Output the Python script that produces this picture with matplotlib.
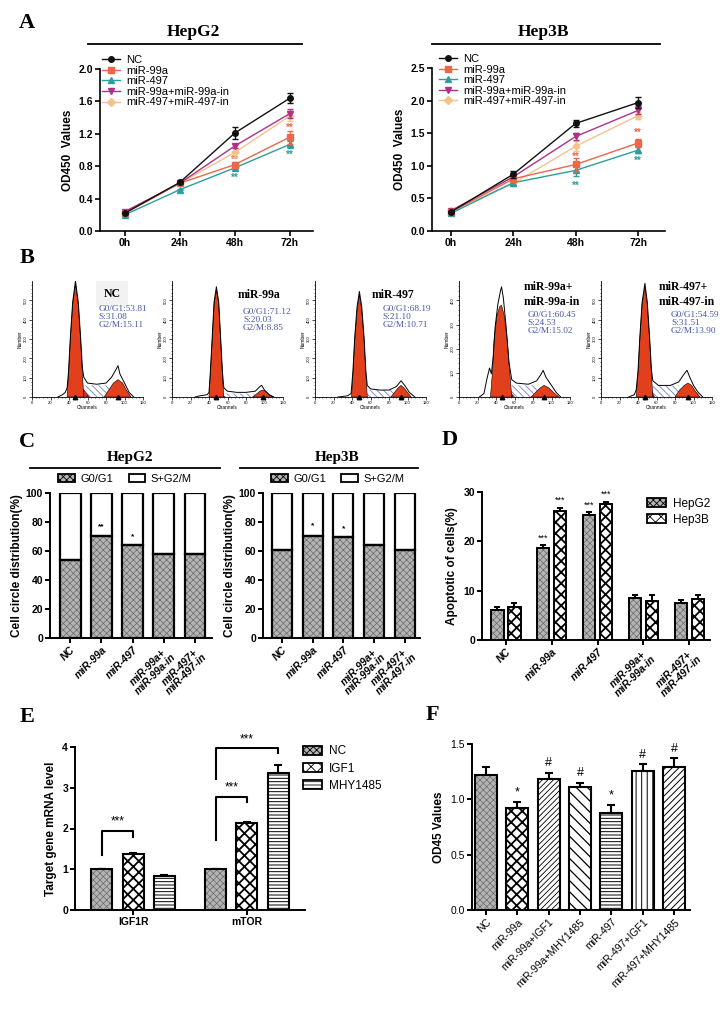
import matplotlib
matplotlib.use('Agg')
import matplotlib.pyplot as plt
from matplotlib.lines import Line2D
from matplotlib.patches import Patch
import numpy as np

# ---------------- data ----------------
timepoints = ['0h', '24h', '48h', '72h']
series_names = ['NC', 'miR-99a', 'miR-497', 'miR-99a+miR-99a-in', 'miR-497+miR-497-in']
series_colors = ['#111111', '#e8684a', '#2a9f9e', '#b0308a', '#f4c28c']
series_markers = ['o', 's', '^', 'v', 'D']

a_hepg2_means = [[0.22, 0.60, 1.21, 1.64],
                 [0.22, 0.59, 0.82, 1.16],
                 [0.20, 0.51, 0.78, 1.07],
                 [0.24, 0.59, 1.05, 1.45],
                 [0.22, 0.59, 0.97, 1.42]]
a_hepg2_errs = [[0.01, 0.02, 0.08, 0.06],
                [0.01, 0.02, 0.03, 0.08],
                [0.01, 0.01, 0.02, 0.04],
                [0.01, 0.02, 0.03, 0.05],
                [0.01, 0.02, 0.06, 0.06]]
a_hep3b_means = [[0.29, 0.87, 1.65, 1.97],
                 [0.29, 0.80, 1.02, 1.35],
                 [0.27, 0.74, 0.93, 1.24],
                 [0.31, 0.83, 1.45, 1.85],
                 [0.31, 0.73, 1.30, 1.77]]
a_hep3b_errs = [[0.02, 0.05, 0.05, 0.08],
                [0.02, 0.04, 0.10, 0.06],
                [0.02, 0.03, 0.08, 0.05],
                [0.02, 0.03, 0.05, 0.06],
                [0.02, 0.04, 0.08, 0.05]]
# significance marks: (time index, value, series index)
a_hepg2_stars = [(2, 0.66, 2), (3, 0.94, 2), (2, 0.88, 1), (3, 1.27, 1)]
a_hep3b_stars = [(2, 0.70, 2), (3, 1.07, 2), (2, 1.13, 1), (3, 1.50, 1)]

# B: flow cytometry histograms (channel, % of axis height)
b_titles = ['NC', 'miR-99a', 'miR-497', 'miR-99a+\nmiR-99a-in', 'miR-497+\nmiR-497-in']
b_g0g1 = ['53.81', '71.12', '68.19', '60.45', '54.59']
b_s = ['31.08', '20.03', '21.10', '24.53', '31.51']
b_g2m = ['15.11', '8.85', '10.71', '15.02', '13.90']
b_ymax = [600, 600, 600, 480, 600]
b_outline = [
    [(28, 0), (33, 2), (36, 4), (38, 8), (39.5, 22), (41.5, 52), (44, 82), (47, 100), (50, 82), (52.5, 52),
     (54.5, 25), (56, 17), (60, 12), (70, 11), (80, 12), (86, 17), (91, 24), (93, 27), (95, 20), (100, 12),
     (105, 4), (110, 0)],
    [(25, 0), (30, 1), (38, 2), (40, 4), (41.5, 22), (43.5, 52), (45.5, 82), (48, 95), (50.5, 82), (52.5, 52),
     (54.5, 22), (56, 8), (60, 5), (70, 4), (80, 4), (90, 5), (95, 9), (97, 10), (100, 6), (105, 2), (110, 0)],
    [(25, 0), (35, 1), (39, 3), (41, 22), (43, 52), (45.5, 78), (48, 91), (50.5, 78), (53, 52), (55, 22),
     (56.5, 10), (60, 7), (70, 6), (80, 6), (88, 9), (93, 14), (97, 10), (102, 4), (108, 0)],
    [(22, 0), (27, 3), (30, 15), (33, 25), (35, 20), (37, 35), (39, 60), (42, 80), (45, 92), (46, 95),
     (48, 85), (51, 60), (54, 30), (57, 15), (62, 12), (75, 11), (84, 14), (89, 20), (91, 23), (94, 17),
     (100, 10), (105, 4), (110, 0)],
    [(30, 0), (36, 2), (38, 6), (40, 22), (42, 52), (44.5, 82), (47.5, 98), (50, 82), (52.5, 52), (54.5, 24),
     (56, 14), (62, 10), (75, 10), (84, 13), (90, 20), (93, 23), (96, 17), (100, 10), (105, 4), (110, 0)],
]
b_g1_peak = [
    [(38, 0), (39.5, 20), (41.5, 50), (44, 80), (47, 97), (50, 80), (52.5, 50), (54.5, 20), (56, 0)],
    [(40, 0), (41.5, 20), (43.5, 50), (45.5, 80), (48, 92), (50.5, 80), (52.5, 50), (54.5, 20), (56, 0)],
    [(39.5, 0), (41, 20), (43, 50), (45.5, 75), (48, 88), (50.5, 75), (53, 50), (55, 20), (56.5, 0)],
    [(34, 0), (36, 20), (38, 50), (41, 70), (44, 78), (46, 79), (49, 70), (52, 50), (55, 20), (57, 0)],
    [(38, 0), (40, 20), (42, 50), (44.5, 80), (47.5, 95), (50, 80), (52.5, 50), (54.5, 20), (56, 0)],
]
b_g1_tail = [
    [(40, 0), (52, 10), (62, 0)],
    [(44, 0), (50, 3), (58, 0)],
    [(44, 0), (50, 4), (57, 0)],
    [(45, 0), (52, 8), (60, 0)],
    [(42, 0), (51, 11), (58, 0)],
]
b_s_band = [
    [(52, 0), (56, 10), (84, 10), (90, 0)],
    [(52, 0), (55, 3), (88, 3), (92, 0)],
    [(52, 0), (55, 6), (85, 6), (90, 0)],
    [(50, 0), (55, 10), (82, 10), (88, 0)],
    [(52, 0), (56, 10), (84, 10), (90, 0)],
]
b_g2_peak = [
    [(78, 0), (83, 6), (88, 12), (93, 15), (98, 12), (102, 6), (107, 0)],
    [(87, 0), (92, 3), (95, 5), (98, 6), (101, 5), (105, 2), (110, 0)],
    [(82, 0), (86, 4), (90, 8), (93, 10), (96, 8), (100, 4), (104, 0)],
    [(78, 0), (84, 5), (88, 8), (92, 10), (97, 8), (102, 4), (108, 0)],
    [(80, 0), (85, 6), (90, 10), (94, 12), (98, 10), (102, 5), (107, 0)],
]
b_g1_pos = [47, 48, 48, 46, 48]
b_g2_pos = [93, 98, 93, 92, 94]

# C: cell cycle distribution
c_labels = ['NC', 'miR-99a', 'miR-497', 'miR-99a+\nmiR-99a-in', 'miR-497+\nmiR-497-in']
c_hepg2_g1 = [54.0, 70.5, 64.0, 58.0, 58.2]
c_hepg2_err = [0.8, 1.0, 1.0, 0.8, 1.2]
c_hep3b_g1 = [61.0, 70.5, 69.5, 64.0, 61.0]
c_hep3b_err = [2.5, 1.8, 1.2, 4.5, 1.8]
c_hepg2_sig = ['', '**', '*', '', '']
c_hep3b_sig = ['', '*', '*', '', '']

# D: apoptosis
d_hepg2 = [6.1, 18.6, 25.4, 8.6, 7.5]
d_hepg2_err = [0.6, 0.6, 0.5, 0.6, 0.7]
d_hep3b = [6.7, 26.2, 27.6, 8.0, 8.4]
d_hep3b_err = [0.8, 0.6, 0.4, 1.2, 0.8]
d_hepg2_sig = ['', '***', '***', '', '']
d_hep3b_sig = ['', '***', '***', '', '']

# E: target gene mRNA
e_genes = ['IGF1R', 'mTOR']
e_groups = ['NC', 'IGF1', 'MHY1485']
e_nc = [1.0, 1.0]
e_nc_err = [0.0, 0.0]
e_igf1 = [1.37, 2.14]
e_igf1_err = [0.02, 0.03]
e_mhy = [0.84, 3.35]
e_mhy_err = [0.03, 0.20]
# brackets: (gene idx, from group, to group, left leg bottom, top, right leg bottom)
e_brackets = [(0, 0, 1, 1.35, 1.94, 1.80), (1, 0, 1, 1.72, 2.78, 2.65), (1, 0, 2, 3.22, 3.97, 3.85)]

# F: OD45
f_labels = ['NC', 'miR-99a', 'miR-99a+IGF1', 'miR-99a+MHY1485', 'miR-497', 'miR-497+IGF1', 'miR-497+MHY1485']
f_vals = [1.22, 0.92, 1.18, 1.11, 0.88, 1.26, 1.29]
f_err = [0.07, 0.06, 0.06, 0.04, 0.07, 0.06, 0.08]
f_sig = ['', '*', '#', '#', '*', '#', '#']

# ---------------- styling helpers ----------------
W, H = 722, 1019
plt.rcParams['font.family'] = ['Liberation Sans', 'DejaVu Sans']
plt.rcParams['hatch.linewidth'] = 0.6
SERIF = ['Liberation Serif', 'DejaVu Serif']

fig = plt.figure(figsize=(W / 100, H / 100), dpi=100)


def add_ax(x0, y0, x1, y1):
    return fig.add_axes([x0 / W, 1 - y1 / H, (x1 - x0) / W, (y1 - y0) / H])


def ftext(x, y, s, **kw):
    fig.text(x / W, 1 - y / H, s, **kw)


def fline(x0, x1, y, lw=1.3):
    fig.add_artist(Line2D([x0 / W, x1 / W], [1 - y / H, 1 - y / H], color='black', lw=lw))


def prism(ax, lw=1.4):
    for s in ['top', 'right']:
        ax.spines[s].set_visible(False)
    for s in ['left', 'bottom']:
        ax.spines[s].set_linewidth(lw)
    ax.tick_params(width=lw, length=3.5, labelsize=7.5, pad=1.5)


def bold_ticklabels(ax, axis='both'):
    labs = []
    if axis in ('both', 'x'):
        labs += ax.get_xticklabels()
    if axis in ('both', 'y'):
        labs += ax.get_yticklabels()
    for lab in labs:
        lab.set_fontweight('bold')


PATTERNS = {
    'gray': dict(fc='#b4b4b4', hc='#6a6a6a', hatch='xxxxx', hlw=0.5),
    'check': dict(fc='white', hc='black', hatch='xxx', hlw=1.3),
    'hstripe': dict(fc='white', hc='black', hatch='-----', hlw=0.7),
    'dense_fwd': dict(fc='white', hc='black', hatch='//////', hlw=0.6),
    'back': dict(fc='white', hc='black', hatch='\\\\\\', hlw=0.9),
    'vstripe': dict(fc='white', hc='black', hatch='|||', hlw=0.7),
    'fwd': dict(fc='white', hc='black', hatch='/////', hlw=0.7),
    'white': dict(fc='white', hc='white', hatch=None, hlw=0.5),
}


def pbar(ax, x, h, w, pattern, bottom=0, lw=1.5, zorder=2):
    p = PATTERNS[pattern]
    bars = ax.bar(x, h, w, bottom=bottom, color=p['fc'], edgecolor=p['hc'], hatch=p['hatch'],
                  linewidth=0, zorder=zorder)
    for b in bars:
        if hasattr(b, 'set_hatch_linewidth'):
            b.set_hatch_linewidth(p['hlw'])
    ax.bar(x, h, w, bottom=bottom, fill=False, edgecolor='black', linewidth=lw, zorder=zorder + 0.1)


def ppatch(pattern):
    p = PATTERNS[pattern]
    pa = Patch(facecolor=p['fc'], edgecolor='black', hatch=p['hatch'], linewidth=1.3)
    return pa


def up_err(ax, x, top, err, lw=1.4, cap=3):
    ax.errorbar(x, top, yerr=[np.zeros(len(err)), err], fmt='none', ecolor='black',
                elinewidth=lw, capsize=cap, capthick=lw, zorder=1)


# ---------------- Panel A ----------------
def panel_a(box, means, errs, ylim, yticks, xlim, stars, leg_anchor):
    ax = add_ax(*box)
    x = np.arange(len(timepoints))
    n = len(series_names)
    for i in range(n):
        ax.errorbar(x, means[i], yerr=errs[i], color=series_colors[i], marker=series_markers[i],
                    ms=4 if series_markers[i] != 'D' else 3.5, lw=1.0, elinewidth=1.0, capsize=2.5,
                    capthick=1.0, zorder=10 - i)
    for ti, val, si in stars:
        ax.text(ti, val, '**', color=series_colors[si], ha='center', va='center', fontsize=7,
                fontweight='bold')
    ax.set_ylim(*ylim)
    ax.set_xlim(*xlim)
    ax.set_yticks(yticks)
    ax.set_yticklabels([f'{v:.1f}' for v in yticks])
    ax.set_xticks(x)
    ax.set_xticklabels(timepoints)
    prism(ax, lw=1.2)
    bold_ticklabels(ax)
    ax.set_ylabel('OD450  Values', fontsize=8.5, fontweight='bold', labelpad=3)
    handles = [Line2D([0], [0], color=series_colors[i], marker=series_markers[i], ms=4, lw=1.0)
               for i in range(n)]
    ax.legend(handles, series_names, loc='upper left', bbox_to_anchor=leg_anchor, frameon=False,
              fontsize=8, handlelength=1.6, handletextpad=0.6, labelspacing=0.05, borderpad=0,
              borderaxespad=0)
    return ax


panel_a((100, 69, 313, 231), a_hepg2_means, a_hepg2_errs, (0, 2.0),
        [0.0, 0.4, 0.8, 1.2, 1.6, 2.0], (-0.45, 3.42), a_hepg2_stars, (0.01, 1.085))
panel_a((432, 68, 665, 231), a_hep3b_means, a_hep3b_errs, (0, 2.5),
        [0.0, 0.5, 1.0, 1.5, 2.0, 2.5], (-0.3, 3.43), a_hep3b_stars, (0.03, 1.085))

ftext(27, 23, 'A', family=SERIF, fontsize=16, fontweight='bold', ha='center', va='center')
ftext(193, 32, 'HepG2', family=SERIF, fontsize=12.5, fontweight='bold', ha='center', va='center')
ftext(543, 32, 'Hep3B', family=SERIF, fontsize=12.5, fontweight='bold', ha='center', va='center')
fline(88, 302, 44)
fline(432, 660, 44)

# ---------------- Panel B ----------------
ftext(27, 258, 'B', family=SERIF, fontsize=16, fontweight='bold', ha='center', va='center')
b_lefts = [32, 172, 315, 459, 601]
b_title_pos = [(0.72, 0.94, 'center'), (0.78, 0.93, 'center'), (0.70, 0.93, 'center'),
               (0.58, 1.0, 'left'), (0.52, 1.0, 'left')]
b_stat_pos = [(0.60, 0.79), (0.64, 0.77), (0.61, 0.79), (0.62, 0.74), (0.63, 0.74)]


def xy(points, ymax):
    xs = [p[0] for p in points]
    ys = [p[1] / 100.0 * ymax for p in points]
    return xs, ys


for k in range(5):
    ax = add_ax(b_lefts[k], 281, b_lefts[k] + 111, 397)
    ym = b_ymax[k]
    xs, ys = xy(b_s_band[k], ym)
    ax.fill(xs, ys, facecolor='white', edgecolor='#6f80c4', hatch='\\\\\\\\\\', linewidth=0, zorder=1)
    xs, ys = xy(b_g2_peak[k], ym)
    ax.fill(xs, ys, facecolor='#e2401c', edgecolor='black', linewidth=0.4, zorder=2)
    xs, ys = xy(b_g1_tail[k], ym)
    ax.fill(xs, ys, facecolor='#c43434', edgecolor='#4a0a0a', hatch='////', linewidth=0.3, zorder=3)
    xs, ys = xy(b_g1_peak[k], ym)
    ax.fill(xs, ys, facecolor='#e2401c', edgecolor='black', linewidth=0.4, zorder=4)
    xs, ys = xy(b_outline[k], ym)
    ax.plot(xs, ys, color='black', lw=0.7, zorder=5)
    ax.plot([b_g1_pos[k], b_g2_pos[k]], [0, 0], linestyle='none', marker='^', color='black', ms=3.2,
            clip_on=False, zorder=6)
    ax.set_xlim(0, 120)
    ax.set_ylim(0, ym)
    ax.set_xticks(range(0, 121, 20))
    ax.set_xticks(range(0, 121, 4), minor=True)
    ax.set_yticks(range(0, ym, 100))
    ax.set_yticks(range(0, ym, 20), minor=True)
    for sname in ['top', 'right']:
        ax.spines[sname].set_visible(False)
    for sname in ['left', 'bottom']:
        ax.spines[sname].set_linewidth(0.6)
    ax.tick_params(which='major', length=2, width=0.5, labelsize=3, pad=1)
    ax.tick_params(which='minor', length=1, width=0.4)
    for lab in ax.get_yticklabels():
        lab.set_rotation(90)
        lab.set_va('center')
    ax.set_xlabel('Channels', fontsize=3.5, labelpad=0)
    ax.set_ylabel('Number', fontsize=3.5, labelpad=1)
    tx, ty, ha = b_title_pos[k]
    kw = dict(family=SERIF, fontsize=8.5, fontweight='bold', ha=ha, va='top', transform=ax.transAxes,
              linespacing=1.35)
    if k == 0:
        kw['bbox'] = dict(facecolor='#f2f2f2', edgecolor='none', boxstyle='square,pad=0.6')
    ax.text(tx, ty, b_titles[k], **kw)
    sx, sy = b_stat_pos[k]
    ax.text(sx, sy, f'G0/G1:{b_g0g1[k]}\nS:{b_s[k]}\nG2/M:{b_g2m[k]}', family=SERIF, fontsize=6.7,
            color='#4657a8', ha='left', va='top', transform=ax.transAxes, linespacing=1.0)

# ---------------- Panel C ----------------
ftext(27, 442, 'C', family=SERIF, fontsize=16, fontweight='bold', ha='center', va='center')


def panel_c(box, g1, err, sig, xlim):
    ax = add_ax(*box)
    x = np.arange(len(c_labels))
    w = 0.66
    s_part = [100 - v for v in g1]
    pbar(ax, x, g1, w, 'gray', lw=1.6)
    pbar(ax, x, s_part, w, 'white', bottom=g1, lw=1.6)
    up_err(ax, x, g1, err, lw=1.6, cap=3)
    for i, t in enumerate(sig):
        if t:
            ax.text(i, g1[i] + err[i] + 2.5, t, ha='center', va='bottom', fontsize=6, fontweight='bold')
    ax.set_ylim(0, 100)
    ax.set_xlim(*xlim)
    ax.set_yticks([0, 20, 40, 60, 80, 100])
    ax.set_xticks(x)
    ax.set_xticklabels(c_labels, rotation=45, ha='right', rotation_mode='anchor', fontstyle='italic',
                       fontweight='bold', fontsize=7, multialignment='center', linespacing=1.0)
    prism(ax, lw=1.4)
    bold_ticklabels(ax, 'y')
    ax.set_ylabel('Cell circle distribution(%)', fontsize=8.5, fontweight='bold', labelpad=2)
    ax.legend([ppatch('gray'), ppatch('white')], ['G0/G1', 'S+G2/M'], ncol=2, loc='center left',
              bbox_to_anchor=(0.05, 1.097), frameon=False, fontsize=8, handlelength=1.5, handleheight=0.8,
              handletextpad=0.5, columnspacing=1.4, borderpad=0, borderaxespad=0)
    return ax


panel_c((50, 493, 212, 638), c_hepg2_g1, c_hepg2_err, c_hepg2_sig, (-0.65, 4.55))
panel_c((263, 493, 420, 638), c_hep3b_g1, c_hep3b_err, c_hep3b_sig, (-0.62, 4.5))
ftext(130, 457, 'HepG2', family=SERIF, fontsize=11, fontweight='bold', ha='center', va='center')
ftext(337, 457, 'Hep3B', family=SERIF, fontsize=11, fontweight='bold', ha='center', va='center')
fline(30, 220, 468)
fline(240, 418, 468)

# ---------------- Panel D ----------------
ftext(450, 440, 'D', family=SERIF, fontsize=16, fontweight='bold', ha='center', va='center')
axd = add_ax(482, 492, 710, 640)
xd = np.arange(len(c_labels))
off, wd = 0.185, 0.27
pbar(axd, xd - off, d_hepg2, wd, 'gray', lw=1.4)
pbar(axd, xd + off, d_hep3b, wd, 'check', lw=1.4)
up_err(axd, xd - off, d_hepg2, d_hepg2_err, lw=1.4, cap=2.5)
up_err(axd, xd + off, d_hep3b, d_hep3b_err, lw=1.4, cap=2.5)
for i in range(len(xd)):
    if d_hepg2_sig[i]:
        axd.text(xd[i] - off, d_hepg2[i] + d_hepg2_err[i] + 0.6, d_hepg2_sig[i], ha='center', va='bottom',
                 fontsize=6.5)
    if d_hep3b_sig[i]:
        axd.text(xd[i] + off, d_hep3b[i] + d_hep3b_err[i] + 0.6, d_hep3b_sig[i], ha='center', va='bottom',
                 fontsize=6.5)
axd.set_ylim(0, 30)
axd.set_xlim(-0.52, 4.45)
axd.set_yticks([0, 10, 20, 30])
axd.set_xticks(xd)
axd.set_xticklabels(c_labels, rotation=45, ha='right', rotation_mode='anchor', fontstyle='italic',
                    fontweight='bold', fontsize=7, multialignment='center', linespacing=1.0)
prism(axd, lw=1.4)
bold_ticklabels(axd, 'y')
axd.set_ylabel('Apoptotic of cells(%)', fontsize=8.5, fontweight='bold', labelpad=4)
axd.legend([ppatch('gray'), ppatch('check')], ['HepG2', 'Hep3B'], loc='upper right',
           bbox_to_anchor=(1.0, 0.96), frameon=False, fontsize=8.5, handlelength=1.6, handleheight=0.8,
           handletextpad=0.6, labelspacing=0.35, borderpad=0, borderaxespad=0)

# ---------------- Panel E ----------------
ftext(27, 717, 'E', family=SERIF, fontsize=16, fontweight='bold', ha='center', va='center')
axe = add_ax(75, 747, 305, 910)
xe = np.arange(len(e_genes))
eo, ew = 0.276, 0.185
e_vals = [e_nc, e_igf1, e_mhy]
e_errs = [e_nc_err, e_igf1_err, e_mhy_err]
e_pat = ['gray', 'check', 'hstripe']
for gi in range(3):
    pos = xe + (gi - 1) * eo
    pbar(axe, pos, e_vals[gi], ew, e_pat[gi], lw=1.5)
    up_err(axe, pos, e_vals[gi], e_errs[gi], lw=1.5, cap=3)
for gene, a, b, lb, top, rb in e_brackets:
    xa = xe[gene] + (a - 1) * eo
    xb = xe[gene] + (b - 1) * eo
    axe.plot([xa, xa, xb, xb], [lb, top, top, rb], color='black', lw=1.5, zorder=5)
    axe.text((xa + xb) / 2, top + 0.08, '***', ha='center', va='bottom', fontsize=8.5)
axe.set_ylim(0, 4)
axe.set_xlim(-0.51, 1.51)
axe.set_yticks([0, 1, 2, 3, 4])
axe.set_xticks(xe)
axe.set_xticklabels(e_genes, fontsize=8, fontweight='bold')
prism(axe, lw=1.4)
bold_ticklabels(axe, 'y')
axe.set_ylabel('Target gene mRNA level', fontsize=8.5, fontweight='bold', labelpad=4)
axe.legend([ppatch(p) for p in e_pat], e_groups, loc='upper left', bbox_to_anchor=(0.99, 1.01),
           frameon=False, fontsize=8.5, handlelength=1.6, handleheight=0.8, handletextpad=0.6,
           labelspacing=0.45, borderpad=0, borderaxespad=0)

# ---------------- Panel F ----------------
ftext(432, 715, 'F', family=SERIF, fontsize=16, fontweight='bold', ha='center', va='center')
axf = add_ax(472, 744, 690, 910)
xf = np.arange(len(f_labels))
f_pat = ['gray', 'check', 'dense_fwd', 'back', 'hstripe', 'vstripe', 'fwd']
for i in range(len(xf)):
    pbar(axf, [xf[i]], [f_vals[i]], 0.7, f_pat[i], lw=1.5)
up_err(axf, xf, f_vals, f_err, lw=1.5, cap=3)
for i, t in enumerate(f_sig):
    if t:
        axf.text(i, f_vals[i] + f_err[i] + 0.03, t, ha='center', va='bottom', fontsize=9)
axf.set_ylim(0, 1.5)
axf.set_xlim(-0.44, 6.5)
axf.set_yticks([0.0, 0.5, 1.0, 1.5])
axf.set_yticklabels(['0.0', '0.5', '1.0', '1.5'])
axf.set_xticks(xf)
axf.set_xticklabels(f_labels, rotation=45, ha='right', rotation_mode='anchor', fontsize=7.5)
prism(axf, lw=1.4)
axf.set_ylabel('OD45 Values', fontsize=8.5, fontweight='bold', labelpad=4)

fig.savefig('out.png', dpi=100)
